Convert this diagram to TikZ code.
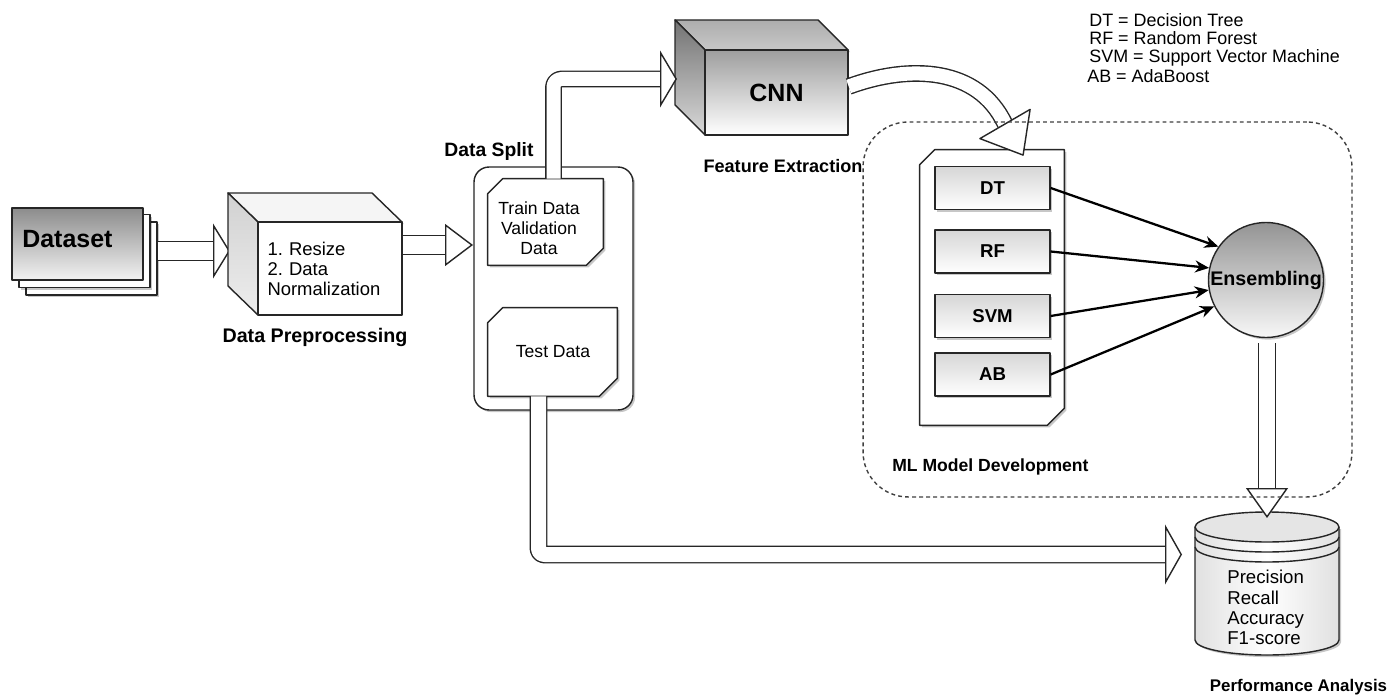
\documentclass[tikz,border=0pt]{standalone}
\usepackage{fontspec}
\setmainfont{Liberation Sans}
\usetikzlibrary{arrows.meta,calc,shadows}
\frenchspacing
\begin{document}
\begin{tikzpicture}[x=0.02cm,y=-0.02cm,
  line join=round,
  edge/.style={draw=black!85, line width=0.8pt},
  shad/.style={drop shadow={shadow xshift=1.2pt,shadow yshift=-1.2pt,opacity=0.22,fill=black}},
  blockbody/.style={draw=black!85, line width=0.8pt, double=white, double distance=#1},
  blocktip/.style 2 args={white, line width=0.8pt, -{Triangle[length=#1, width=#2, color=black!85, fill=white, line width=0.8pt]}},
  mlarrow/.style={draw=black, line width=1.3pt, -{Stealth[length=0.28cm, width=0.24cm]}},
  lbl/.style={inner sep=0, font=\fontsize{10.5}{12}\selectfont\bfseries},
  txt/.style={inner sep=0, font=\fontsize{10}{11.4}\selectfont},
  modelbox/.style={edge, shad, rectangle, inner sep=0, minimum width=2.3cm, minimum height=0.86cm,
     top color=black!16, bottom color=white, font=\fontsize{10.6}{12}\selectfont\bfseries},
]
\fill[white] (0,0) rectangle (1389,699);
\useasboundingbox (0,0) rectangle (1389,699);

% ---------------- Dataset stack
\node[edge, shad, fill=white, minimum width=2.62cm, minimum height=1.46cm] (ds3) at (91.5,258.5) {};
\node[edge, shad, fill=white, minimum width=2.62cm, minimum height=1.46cm] (ds2) at (84.5,251) {};
\node[edge, top color=black!45, bottom color=black!5, minimum width=2.62cm, minimum height=1.44cm] (ds1) at (77.5,244) {};
\node[inner sep=0, anchor=west, font=\fontsize{14.2}{16}\selectfont\bfseries] (dstxt) at (22,239) {Dataset};

% Dataset -> Preprocessing
\coordinate (a1s) at ($(ds3.east)+(0,-7.5)$);
\coordinate (a1t) at (230,251);
\draw[blockbody=0.36cm] (a1s) -- ($(a1t)+(-17,0)$);
\draw[blocktip={0.34cm}{1.1cm}] ($(a1t)+(-22,0)$) -- (a1t);

% ---------------- Preprocessing cube
\draw[edge, shad, fill=black!4] (228,193) -- (372,193) -- (402,222) -- (258,222) -- cycle;
\draw[edge, top color=black!18, bottom color=black!7] (228,193) -- (258,222) -- (258,315) -- (228,286) -- cycle;
\node[edge, fill=white, minimum width=2.88cm, minimum height=1.86cm, inner sep=0,
      text width=2.5cm, align=left, font=\fontsize{10.5}{11.4}\selectfont] (pre) at (330,268.5)
      {1. Resize\\2. Data\\Normalization};
\node[lbl, font=\fontsize{11.2}{13}\selectfont\bfseries] (prelbl) at (315,337) {Data Preprocessing};

% Preprocessing -> Data split
\coordinate (a2s) at ($(pre.east)+(0,-23.5)$);
\coordinate (a2t) at (473,245);
\draw[blockbody=0.36cm] (a2s) -- ($(a2t)+(-28,0)$);
\draw[blocktip={0.56cm}{0.84cm}] ($(a2t)+(-33,0)$) -- (a2t);

% ---------------- Data split
\node[edge, shad, fill=white, rounded corners=0.3cm, minimum width=3.18cm, minimum height=4.86cm] (split) at (553.5,288.5) {};
\node[lbl, font=\fontsize{11}{13}\selectfont\bfseries] (splitlbl) at (489,152) {Data Split};

\node[minimum width=2.3cm, minimum height=1.72cm, inner sep=0] (train) at (545.5,222) {};
\draw[edge, shad, fill=white] ($(train.north west)+(15,0)$) -- (train.north east) -- ($(train.south east)+(0,-17)$)
   -- ($(train.south east)+(-17,0)$) -- (train.south west) -- ($(train.north west)+(0,15)$) -- cycle;
\node[txt, align=center] (traintxt) at (539,228) {Train Data\\Validation\\Data};

\node[minimum width=2.58cm, minimum height=1.76cm, inner sep=0] (test) at (552.5,352) {};
\draw[edge, shad, fill=white] ($(test.north west)+(15,0)$) -- (test.north east) -- ($(test.south east)+(0,-18)$)
   -- ($(test.south east)+(-18,0)$) -- (test.south west) -- ($(test.north west)+(0,15)$) -- cycle;
\node[txt] (testtxt) at (553,352) {Test Data};

% ---------------- CNN cube
\draw[edge, shad, top color=black!32, bottom color=black!22] (675,20) -- (818,20) -- (848,50) -- (705,50) -- cycle;
\draw[edge, top color=black!55, bottom color=black!15] (675,20) -- (705,50) -- (705,135) -- (675,105) -- cycle;
\node[edge, top color=black!38, bottom color=white, minimum width=2.86cm, minimum height=1.7cm, inner sep=0,
      font=\fontsize{14.2}{16}\selectfont\bfseries] (cnn) at (776.5,92.5) {CNN};
\node[lbl, font=\fontsize{10.3}{12}\selectfont\bfseries] (cnnlbl) at (783,166) {Feature Extraction};

% Train -> CNN
\coordinate (a3t) at (677,79);
\draw[blockbody=0.28cm, rounded corners=0.16cm] ($(train.north)+(8,0)$) |- ($(a3t)+(-17,0)$);
\draw[blocktip={0.34cm}{1.14cm}] ($(a3t)+(-22,0)$) -- (a3t);

% ---------------- ML models
\node[minimum width=2.88cm, minimum height=5.5cm, inner sep=0] (mls) at (992,287.5) {};
\draw[edge, shad, fill=white] ($(mls.north west)+(15,0)$) -- (mls.north east) -- ($(mls.south east)+(0,-17)$)
   -- ($(mls.south east)+(-17,0)$) -- (mls.south west) -- ($(mls.north west)+(0,15)$) -- cycle;
\node[modelbox] (dt) at (992.5,188) {DT};
\node[modelbox] (rf) at (992.5,251.5) {RF};
\node[modelbox] (svm) at (992.5,316) {SVM};
\node[modelbox] (ab) at (992.5,374.5) {AB};

% CNN -> ML models (curved)
\coordinate (a4b) at (1005,124);
\coordinate (a4t) at (1023.1,155.1);
\draw[blockbody=0.28cm] ($(cnn.east)+(0,-6)$) .. controls (910,64) and (978,67) .. (a4b);
\draw[edge, fill=white] (1030.1,109.4) -- (a4t) -- (979.9,138.6) -- cycle;

\node[edge, shad, circle, minimum size=2.3cm, inner sep=0, top color=black!42, bottom color=black!3,
      label={[font=\fontsize{11.2}{13}\selectfont\bfseries]center:Ensembling}] (ens) at (1266,280) {};

\draw[mlarrow] (dt.east) -- (ens.145);
\draw[mlarrow] (rf.east) -- (ens.168);
\draw[mlarrow] (svm.east) -- (ens.190);
\draw[mlarrow] (ab.east) -- (ens.207);

% ---------------- Performance cylinder
\node[minimum width=2.88cm, minimum height=2.86cm, inner sep=0] (perf) at (1267,583.5) {};
\fill[shad, left color=black!12, right color=black!12, middle color=white]
   (1195,527) -- (1195,640) arc[start angle=180, end angle=0, x radius=72, y radius=15] -- (1339,527) -- cycle;
\draw[edge] (1195,527) -- (1195,640) arc[start angle=180, end angle=0, x radius=72, y radius=15] -- (1339,527);
\draw[edge] (1195,537) arc[start angle=180, end angle=0, x radius=72, y radius=15];
\draw[edge] (1195,547) arc[start angle=180, end angle=0, x radius=72, y radius=15];
\draw[edge, fill=black!10] (1267,527) ellipse [x radius=72, y radius=15];
\node[inner sep=0, anchor=west, align=left, font=\fontsize{10.6}{11.5}\selectfont] (perftxt) at (1227,607.5)
   {Precision\\Recall\\Accuracy\\F1-score};
\node[lbl, font=\fontsize{9.6}{12}\selectfont\bfseries] (perflbl) at (1298.5,687) {Performance Analysis};

% Test -> Performance
\coordinate (a5t) at (1182,554.5);
\draw[blockbody=0.3cm, rounded corners=0.12cm] ($(test.south)+(-14,0)$) |- ($(a5t)+(-17,0)$);
\draw[blocktip={0.34cm}{1.2cm}] ($(a5t)+(-22,0)$) -- (a5t);

% Ensembling -> Performance
\coordinate (a6t) at (1267,518);
\draw[blockbody=0.32cm] ($(ens.south)+(1,5)$) -- ($(a6t)+(0,-30)$);
\draw[blocktip={0.6cm}{0.84cm}] ($(a6t)+(0,-35)$) -- (a6t);

% ---------------- ML dashed region
\node[draw=black!75, line width=0.8pt, dash pattern=on 2.2pt off 1.8pt, rounded corners=0.9cm,
      minimum width=9.78cm, minimum height=7.5cm, inner sep=0] (mlbox) at (1107.5,309.5) {};
\node[lbl, anchor=west, font=\fontsize{10}{12}\selectfont\bfseries] (mllbl) at (892,467) {ML Model Development};

% ---------------- Legend
\node[txt, anchor=west, font=\fontsize{10.2}{12}\selectfont] (lg1) at (1089,20) {DT = Decision Tree};
\node[txt, anchor=west, font=\fontsize{10.2}{12}\selectfont] (lg2) at (1089,38.5) {RF = Random Forest};
\node[txt, anchor=west, font=\fontsize{10.2}{12}\selectfont] (lg3) at (1089,57.5) {SVM = Support Vector Machine};
\node[txt, anchor=west, font=\fontsize{10.2}{12}\selectfont] (lg4) at (1087,76.5) {AB = AdaBoost};
\end{tikzpicture}
\end{document}
